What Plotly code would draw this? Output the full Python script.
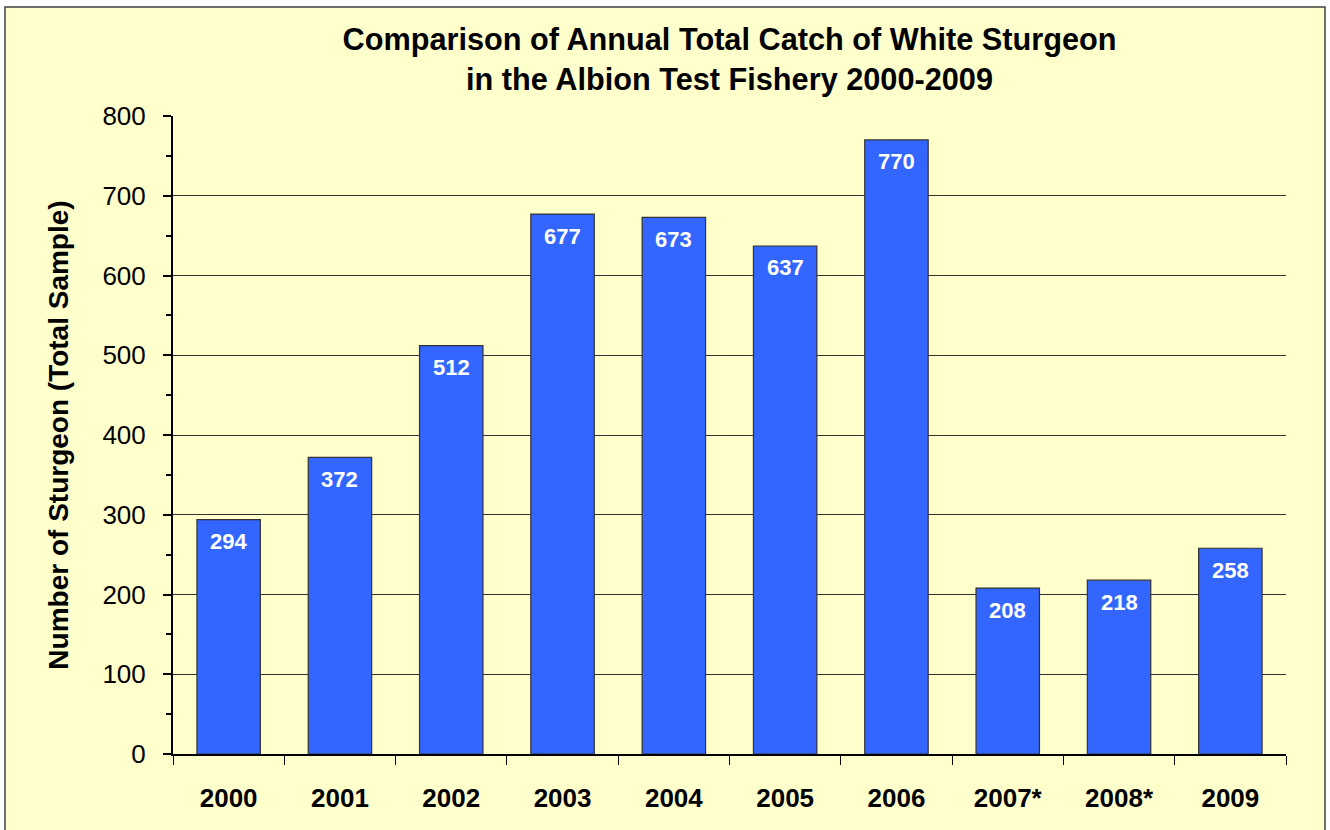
import plotly.graph_objects as go

years = ["2000", "2001", "2002", "2003", "2004", "2005", "2006", "2007*", "2008*", "2009"]
catch = [294, 372, 512, 677, 673, 637, 770, 208, 218, 258]
y_ticks = [0, 100, 200, 300, 400, 500, 600, 700, 800]

FONT = "Arial, Liberation Sans, sans-serif"

W, H = 1330, 830
L, R, T, B = 173, 44, 116, 76
PW, PH = W - L - R, H - T - B

fig = go.Figure(
    go.Bar(
        x=years,
        y=catch,
        marker=dict(color="#3366FF", line=dict(color="#333333", width=1.2)),
        hoverinfo="x+y",
    )
)

# value labels placed through the category axis (index of each category)
for i, v in enumerate(catch):
    fig.add_annotation(
        x=i, y=v, xref="x", yref="y",
        text=str(v), showarrow=False,
        yanchor="middle", yshift=-22,
        font=dict(family=FONT, size=22, color="white", weight="bold"),
    )

fig.update_layout(
    width=W,
    height=H,
    paper_bgcolor="white",
    plot_bgcolor="#C0C0C0",
    margin=dict(l=L, r=R, t=T, b=B),
    bargap=0.43,
    showlegend=False,
    font=dict(family=FONT, color="black"),
    title=dict(
        text="Comparison of Annual Total Catch of White Sturgeon<br>in the Albion Test Fishery 2000-2009",
        x=(L + L + PW) / 2 / W,
        xanchor="center",
        y=0.940,
        yanchor="top",
        font=dict(family=FONT, size=30.7, color="black", weight="bold"),
    ),
    shapes=[
        dict(type="rect", xref="paper", yref="paper",
             x0=(5 - L) / PW, x1=(1325 - L) / PW,
             y0=-(H + 10 - (T + PH)) / PH, y1=(T + PH - 7) / PH,
             fillcolor="#FFFFCC",
             line=dict(color="#404040", width=1.5), layer="below"),
    ],
)

fig.update_xaxes(
    type="category",
    categoryorder="array",
    categoryarray=years,
    range=[-0.5, len(years) - 0.5],
    autorange=False,
    showline=True,
    linecolor="black",
    linewidth=2,
    ticks="outside",
    tickson="boundaries",
    ticklen=9,
    tickcolor="black",
    tickwidth=1,
    ticklabelstandoff=20,
    tickfont=dict(family=FONT, size=26, color="black", weight="bold"),
)

fig.update_yaxes(
    range=[0, 800],
    autorange=False,
    tickvals=y_ticks,
    showline=True,
    linecolor="black",
    linewidth=2,
    ticks="outside",
    ticklen=8,
    tickcolor="black",
    tickwidth=1.5,
    ticklabelstandoff=12,
    tickfont=dict(family=FONT, size=26, color="black"),
    showgrid=True,
    gridcolor="#333333",
    gridwidth=1,
    zeroline=False,
    minor=dict(dtick=50, ticks="outside", ticklen=5, tickcolor="black", showgrid=False),
    title=dict(
        text="Number of Sturgeon (Total Sample)",
        font=dict(family=FONT, size=28, color="black", weight="bold"),
        standoff=26,
    ),
)

fig.write_html(
    "out.html",
    config={"displayModeBar": False},
    post_script="document.body.style.margin='0px';",
)
